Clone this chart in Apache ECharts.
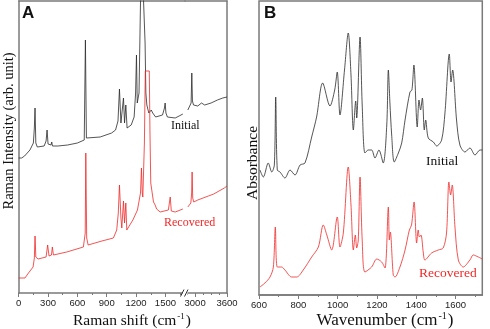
<!DOCTYPE html>
<html>
<head>
<meta charset="utf-8">
<script src="https://cdn.jsdelivr.net/npm/echarts@6/dist/echarts.min.js"></script>
<style>
html, body { margin: 0; padding: 0; background: #fff; }
#chart { width: 490px; height: 329px; }
</style>
</head>
<body>
<div id="chart"></div>
<script>
// Raman spectra: [shift (cm-1), intensity (arb.)], split at the axis break
var ramanInitialLow = [
  [0, 135], [30, 135], [60, 137], [115, 143], [150, 150], [160, 165], [167, 185], [175, 150],
  [190, 146], [260, 147], [280, 152], [290, 163], [300, 149], [330, 148], [338, 151], [345, 147],
  [400, 147], [500, 148], [600, 150], [670, 153], [682, 253], [692, 155], [700, 156], [833, 156],
  [950, 160], [990, 163], [1015, 172], [1030, 204], [1045, 170], [1055, 168], [1071, 195], [1082, 170],
  [1095, 188], [1108, 165], [1150, 168], [1180, 176], [1195, 200], [1204, 238], [1212, 190], [1230, 200],
  [1245, 290], [1262, 330], [1280, 330], [1292, 250], [1300, 200], [1310, 188], [1330, 180], [1355, 183],
  [1370, 180], [1400, 176], [1470, 178], [1490, 185], [1497, 190], [1505, 180], [1520, 176], [1600, 175],
  [1640, 177], [1678, 179]
];
var ramanInitialHigh = [
  [2863, 183], [2900, 185], [2925, 190], [2938, 220], [2950, 192], [2970, 188], [3000, 186], [3050, 187],
  [3120, 190], [3180, 188], [3300, 190], [3420, 193], [3520, 195], [3600, 196]
];
var ramanRecoveredLow = [
  [0, 15], [64, 15], [100, 20], [147, 26], [160, 35], [167, 57], [175, 36], [198, 34],
  [280, 36], [296, 48], [310, 37], [335, 38], [344, 46], [355, 38], [491, 41], [661, 46],
  [680, 60], [686, 140], [695, 55], [710, 48], [850, 52], [968, 55], [1002, 63], [1018, 80],
  [1030, 108], [1045, 75], [1054, 65], [1071, 92], [1082, 70], [1095, 90], [1105, 63], [1167, 73],
  [1214, 83], [1245, 100], [1255, 125], [1263, 100], [1269, 96], [1285, 150], [1294, 222], [1335, 222],
  [1342, 160], [1350, 110], [1378, 91], [1395, 88], [1410, 84], [1446, 81], [1530, 83], [1549, 96],
  [1560, 82], [1600, 81], [1678, 84]
];
var ramanRecoveredHigh = [
  [2863, 86], [2920, 90], [2935, 100], [2944, 121], [2955, 95], [2975, 91], [3050, 93], [3150, 95],
  [3250, 97], [3350, 99], [3450, 102], [3550, 105], [3600, 107]
];

// IR spectra: [wavenumber (cm-1), absorbance (arb.)]
var irInitial = [
  [605, 125], [622, 118], [647, 132], [665, 123], [678, 130], [685, 198], [693, 125], [707, 123],
  [732, 117], [758, 125], [783, 120], [809, 130], [834, 132], [868, 158], [893, 178], [924, 212],
  [961, 189], [985, 205], [998, 223], [1012, 180], [1035, 225], [1054, 262], [1068, 220], [1080, 165],
  [1092, 194], [1097, 177], [1114, 258], [1125, 190], [1139, 142], [1156, 145], [1173, 145], [1190, 137],
  [1210, 145], [1232, 132], [1250, 170], [1258, 225], [1266, 192], [1275, 160], [1288, 133], [1309, 142],
  [1326, 152], [1343, 175], [1368, 203], [1378, 205], [1388, 230], [1405, 168], [1414, 195], [1422, 185],
  [1431, 197], [1441, 165], [1448, 175], [1461, 157], [1487, 153], [1504, 149], [1529, 155], [1546, 182],
  [1568, 241], [1577, 213], [1585, 225], [1605, 175], [1622, 150], [1648, 143], [1673, 147], [1699, 140],
  [1724, 145], [1736, 145]
];
var irRecovered = [
  [605, 8], [630, 12], [656, 18], [673, 28], [683, 68], [693, 28], [715, 28], [732, 25],
  [766, 18], [792, 18], [825, 25], [868, 38], [902, 48], [927, 70], [945, 60], [970, 45],
  [998, 78], [1012, 48], [1029, 62], [1054, 128], [1068, 90], [1080, 45], [1090, 60], [1097, 47],
  [1105, 55], [1114, 118], [1125, 55], [1139, 23], [1173, 28], [1199, 36], [1224, 33], [1241, 27],
  [1258, 88], [1263, 55], [1268, 63], [1283, 20], [1292, 18], [1317, 28], [1343, 45], [1365, 65],
  [1376, 70], [1389, 93], [1402, 52], [1410, 65], [1416, 58], [1424, 60], [1436, 42], [1444, 35],
  [1478, 42], [1512, 45], [1537, 47], [1554, 62], [1566, 113], [1575, 100], [1583, 110], [1597, 68],
  [1614, 35], [1639, 28], [1673, 35], [1690, 40], [1716, 38], [1736, 36]
];

// tick positions
var ramanMajorLow = [0, 300, 600, 900, 1200, 1500];
var ramanMinorLow = [150, 450, 750, 1050, 1350, 1650];
var ramanMajorHigh = [3000, 3600];
var ramanMinorHigh = [2850, 3150, 3300, 3450];
var irMajor = [600, 800, 1000, 1200, 1400, 1600];
var irMinor = [700, 900, 1100, 1300, 1500, 1700];

var frame = '#7a7a7a';
var black = '#2a2a2a';
var red = '#f02828';
var serif = '"Liberation Serif", "Times New Roman", serif';
var sans = '"Liberation Sans", Arial, sans-serif';

function mainAxis (grid, min, max, labels) {
  return {
    type: 'value', gridIndex: grid, position: 'bottom', min: min, max: max,
    axisLine: { show: true, lineStyle: { color: frame, width: 1.5 } },
    axisTick: { show: true, inside: false, length: 4, customValues: labels, lineStyle: { color: frame } },
    axisLabel: {
      show: true, customValues: labels, margin: 5, fontSize: 9.5, fontFamily: sans, color: '#222',
      formatter: function (v) { return String(v) }
    },
    splitLine: { show: false }
  }
}
function minorAxis (grid, min, max, ticks) {
  return {
    type: 'value', gridIndex: grid, position: 'bottom', min: min, max: max,
    axisLine: { show: false },
    axisTick: { show: true, inside: false, length: 2, customValues: ticks, lineStyle: { color: frame } },
    axisLabel: { show: false },
    splitLine: { show: false }
  }
}
function topAxis (grid, min, max) {
  return {
    type: 'value', gridIndex: grid, position: 'top', min: min, max: max,
    axisLine: { show: true, lineStyle: { color: frame, width: 1.5 } },
    axisTick: { show: false }, axisLabel: { show: false }, splitLine: { show: false }
  }
}
function sideAxis (grid, pos, max, line) {
  return {
    type: 'value', gridIndex: grid, position: pos, min: 0, max: max,
    axisLine: { show: line, lineStyle: { color: frame, width: 1.5 } },
    axisTick: { show: false }, axisLabel: { show: false }, splitLine: { show: false }
  }
}
function spectrum (data, xi, yi, color, smooth) {
  return {
    type: 'line', data: data, xAxisIndex: xi, yAxisIndex: yi,
    showSymbol: false, symbol: 'none', clip: true, smooth: smooth,
    lineStyle: { color: color, width: 0.8 }
  }
}

var chart = echarts.init(document.getElementById('chart'))
var option = {
  animation: false,
  backgroundColor: '#fff',
  grid: [
    { left: 18.7, top: 1, width: 166.3, height: 292 },
    { left: 185, top: 1, width: 42, height: 292 },
    { left: 259, top: 1, width: 223.3, height: 294, show: true, borderColor: frame, borderWidth: 1.5 }
  ],
  xAxis: [
    mainAxis(0, 0, 1700, ramanMajorLow),
    minorAxis(0, 0, 1700, ramanMinorLow),
    topAxis(0, 0, 1700),
    mainAxis(1, 2810, 3600, ramanMajorHigh),
    minorAxis(1, 2810, 3600, ramanMinorHigh),
    topAxis(1, 2810, 3600),
    mainAxis(2, 600, 1736, irMajor),
    minorAxis(2, 600, 1736, irMinor)
  ],
  yAxis: [
    sideAxis(0, 'left', 292, true),
    sideAxis(1, 'right', 292, true),
    sideAxis(2, 'left', 294, false)
  ],
  series: [
    spectrum(ramanInitialLow, 0, 0, black, false),
    spectrum(ramanRecoveredLow, 0, 0, red, false),
    spectrum(ramanInitialHigh, 3, 1, black, false),
    spectrum(ramanRecoveredHigh, 3, 1, red, false),
    spectrum(irInitial, 6, 2, black, 0.3),
    spectrum(irRecovered, 6, 2, red, 0.3)
  ],
  graphic: [
    // panel letters
    { type: 'text', left: 22, top: 5, style: { text: 'A', font: 'bold 17px ' + sans, fill: '#111' } },
    { type: 'text', left: 264, top: 5, style: { text: 'B', font: 'bold 17px ' + sans, fill: '#111' } },
    // curve captions
    { type: 'text', left: 171, top: 120, style: { text: 'Initial', font: '12px ' + serif, fill: '#111' } },
    { type: 'text', left: 164, top: 217, style: { text: 'Recovered', font: '12px ' + serif, fill: red } },
    { type: 'text', left: 426, top: 154, style: { text: 'Initial', font: '13.5px ' + serif, fill: '#111' } },
    { type: 'text', left: 419, top: 266, style: { text: 'Recovered', font: '13.5px ' + serif, fill: red } },
    // axis titles
    {
      type: 'text', x: 9, y: 131, rotation: Math.PI / 2,
      style: { text: 'Raman Intensity (arb. unit)', font: '14.5px ' + serif, fill: '#111', align: 'center', verticalAlign: 'middle' }
    },
    {
      type: 'text', x: 253, y: 163, rotation: Math.PI / 2,
      style: { text: 'Absorbance', font: '15.5px ' + serif, fill: '#111', align: 'center', verticalAlign: 'middle' }
    },
    {
      type: 'text', x: 132, y: 321,
      style: {
        text: 'Raman shift (cm{s|-1})', font: '15.5px ' + serif, fill: '#111', align: 'center', verticalAlign: 'middle',
        rich: { s: { fontSize: 9, fontFamily: serif, verticalAlign: 'top', padding: [0, 1, 9, 1] } }
      }
    },
    {
      type: 'text', x: 385, y: 321,
      style: {
        text: 'Wavenumber (cm{s|-1})', font: '17px ' + serif, fill: '#111', align: 'center', verticalAlign: 'middle',
        rich: { s: { fontSize: 10, fontFamily: serif, verticalAlign: 'top', padding: [0, 1, 10, 1] } }
      }
    },
    // axis break marks
    { type: 'rect', shape: { x: 182.5, y: 291, width: 5, height: 4 }, style: { fill: '#fff' }, z: 10 },
    { type: 'line', shape: { x1: 180.5, y1: 296.5, x2: 184, y2: 289.5 }, style: { stroke: '#333', lineWidth: 1 }, z: 11 },
    { type: 'line', shape: { x1: 184.5, y1: 296.5, x2: 188, y2: 289.5 }, style: { stroke: '#333', lineWidth: 1 }, z: 11 }
  ]
}
chart.setOption(option)
</script>
</body>
</html>
